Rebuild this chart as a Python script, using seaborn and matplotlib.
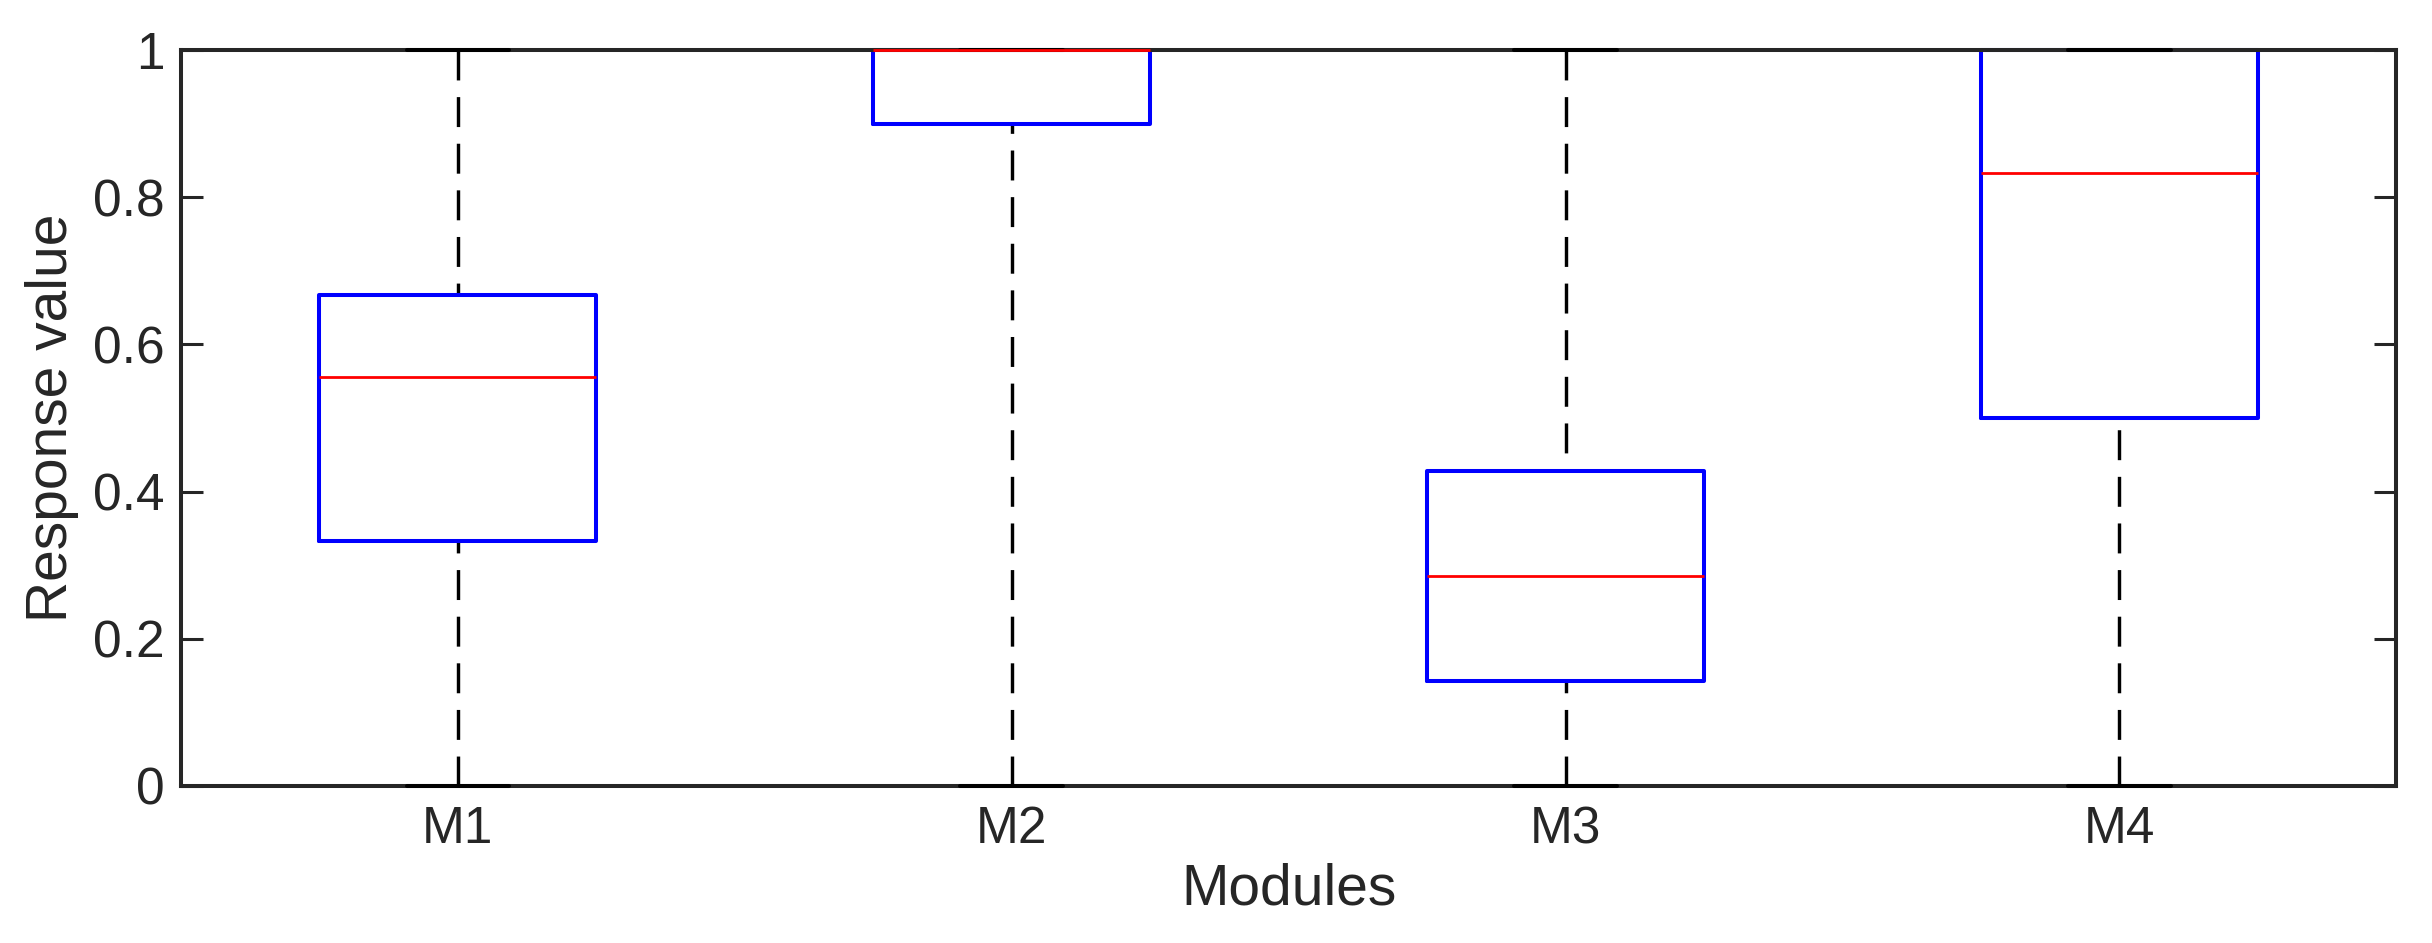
import numpy as np
import pandas as pd
import matplotlib.pyplot as plt
import seaborn as sns

sns.set_style('white')
plt.rcParams['font.family'] = ['Liberation Sans', 'DejaVu Sans']

# raw responses per module (quartiles)
modules = ['M1', 'M2', 'M3', 'M4']
m1 = [0, 1/3, 5/9, 2/3, 1]
m2 = [0, 0.9, 1, 1, 1]
m3 = [0, 1/7, 2/7, 3/7, 1]
m4 = [0, 0.5, 5/6, 1, 1]

df = pd.DataFrame({
    'module': np.repeat(modules, [len(m1), len(m2), len(m3), len(m4)]),
    'value': m1 + m2 + m3 + m4,
})

dark = '#262626'
fig, ax = plt.subplots(figsize=(24.32, 9.43), dpi=100)
fig.subplots_adjust(left=0.0744, right=0.9853, bottom=0.1665, top=0.947)

sns.boxplot(data=df, x='module', y='value', ax=ax, whis=(0, 100), width=0.5,
            fill=False, showfliers=False, linewidth=2.9, capwidths=0.185)

# matlab look: blue box, red median, dashed black whiskers, black caps
n = len(modules)
lines = ax.lines
per = len(lines) // n
for k in range(n):
    grp = lines[k * per:(k + 1) * per]
    horiz = []
    for line in grp:
        line.set_clip_on(False)
        xd = np.asarray(line.get_xdata(), dtype=float)
        yd = np.asarray(line.get_ydata(), dtype=float)
        if len(xd) == 2 and np.isclose(xd[0], xd[1]):
            # whisker, drawn from the far end so the dash starts at the cap
            line.set_data(xd[::-1], yd[::-1])
            line.set_color('black')
            line.set_linewidth(2.45)
            line.set_linestyle((0, (8.8, 4.9)))
            line.set_zorder(1.5)
        elif len(xd) > 2:
            line.set_color('blue')
            line.set_linewidth(2.9)
            line.set_zorder(2.5)
        else:
            horiz.append(line)
    # last horizontal is the median, the others are caps
    for l in horiz[:-1]:
        l.set_color('black')
        l.set_linewidth(2.9)
        l.set_zorder(3)
    horiz[-1].set_color('red')
    horiz[-1].set_linewidth(2.0)
    horiz[-1].set_zorder(3.5)
for p in ax.patches:
    p.set_edgecolor('blue')
    p.set_linewidth(2.9)

ax.set_xlim(-0.5, 3.5)
ax.set_ylim(0, 1)
ax.set_yticks([0, 0.2, 0.4, 0.6, 0.8, 1])
ax.set_yticklabels(['0', '0.2', '0.4', '0.6', '0.8', '1'])
ax.set_xlabel('Modules', fontsize=41, color=dark, labelpad=6)
ax.set_ylabel('Response value', fontsize=41, color=dark, labelpad=10)

ax.tick_params(axis='y', direction='in', length=16, width=2.2, colors=dark,
               labelsize=37, left=True, right=True, pad=12)
ax.tick_params(axis='x', length=0, colors=dark, labelsize=37, pad=14)
for sp in ax.spines.values():
    sp.set_visible(True)
    sp.set_color(dark)
    sp.set_linewidth(2.9)

fig.savefig('out.png', dpi=100)
